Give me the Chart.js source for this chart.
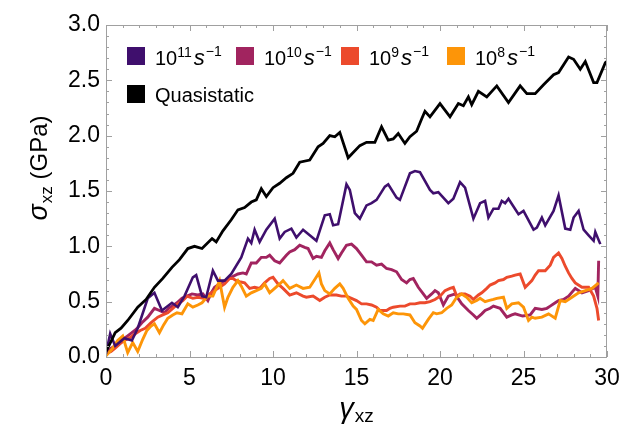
<!DOCTYPE html>
<html>
<head>
<meta charset="utf-8">
<script src="https://cdn.jsdelivr.net/npm/chart.js@4.4.1/dist/chart.umd.min.js"></script>
<style>
  html, body { margin: 0; padding: 0; background: #fff; }
  #wrap { width: 620px; height: 431px; }
</style>
</head>
<body>
<div id="wrap"><canvas id="stressChart" width="620" height="431"></canvas></div>
<script>
// Shear stress vs shear strain
const strainQS = [0,0.3,0.55,0.9,1.3,1.9,2.4,2.9,3.4,3.95,4.4,4.9,5.3,5.75,6.35,6.6,7.0,7.5,7.9,8.3,8.7,9.0,9.3,9.6,10.0,10.4,10.8,11.2,11.6,12.2,12.7,13.0,13.4,13.7,14.0,14.5,15.2,15.6,16.1,16.5,16.9,17.2,17.5,17.9,18.2,18.6,18.9,19.1,19.4,20.0,20.6,21.1,21.4,21.7,21.9,22.3,22.8,23.4,24.1,24.8,25.2,25.7,26.2,26.8,27.1,27.7,28.0,28.4,28.7,29.2,29.4,29.9,30];
const stressQS = [0.05,0.14,0.22,0.26,0.33,0.45,0.52,0.63,0.71,0.81,0.88,0.98,1.00,0.98,1.07,1.04,1.14,1.24,1.33,1.35,1.40,1.42,1.52,1.45,1.53,1.57,1.62,1.66,1.76,1.78,1.90,1.93,2.00,1.99,2.03,1.80,1.91,1.94,1.94,2.08,1.96,1.97,2.02,1.93,1.99,2.04,2.15,2.22,2.17,2.29,2.17,2.29,2.27,2.35,2.28,2.40,2.35,2.45,2.30,2.45,2.38,2.38,2.46,2.55,2.57,2.71,2.69,2.60,2.67,2.48,2.48,2.66,2.67];

const strain11 = [0,0.25,0.55,1.1,1.55,1.9,2.5,2.9,3.35,3.95,4.3,4.7,5.2,5.4,5.75,6.0,6.4,6.7,7.1,7.5,8.1,8.5,8.7,8.9,9.2,9.6,10.1,10.4,10.7,11.1,11.4,11.8,12.2,12.6,13.1,13.4,13.6,13.9,14.4,14.6,14.9,15.2,15.6,15.9,16.2,16.7,16.9,17.4,17.6,18.2,18.5,18.8,19.4,19.6,19.9,20.5,20.8,21.2,21.5,22.0,22.4,22.7,22.9,23.2,23.5,23.7,23.9,24.1,24.7,25.0,25.6,25.8,26.1,26.3,26.8,27.1,27.5,27.8,28.0,28.3,28.6,28.9,29.2,29.3,29.6];
const stress11 = [0.03,0.21,0.10,0.17,0.15,0.26,0.53,0.58,0.42,0.49,0.45,0.55,0.72,0.74,0.55,0.54,0.78,0.69,0.69,0.75,0.90,1.07,1.03,1.15,1.04,1.15,1.25,1.07,1.13,1.16,1.08,1.15,1.10,1.05,1.28,1.29,1.19,1.20,1.56,1.51,1.30,1.25,1.37,1.39,1.42,1.54,1.56,1.44,1.42,1.66,1.68,1.67,1.51,1.48,1.49,1.39,1.43,1.58,1.53,1.25,1.39,1.41,1.26,1.34,1.34,1.41,1.39,1.43,1.29,1.32,1.15,1.17,1.26,1.19,1.32,1.46,1.16,1.15,1.26,1.32,1.15,1.10,1.05,1.13,1.02];

const strain10 = [0,0.3,0.55,0.8,0.95,1.2,1.55,1.8,2.15,2.5,2.9,3.2,3.5,3.75,3.95,4.25,4.55,4.85,5.15,5.5,5.8,6.1,6.3,6.5,6.8,7.1,7.5,7.9,8.2,8.4,8.7,9.0,9.3,9.6,9.8,10.1,10.4,10.8,11.0,11.3,11.6,11.9,12.1,12.4,12.6,12.9,13.1,13.4,13.6,13.9,14.1,14.4,14.7,15.0,15.3,15.6,15.9,16.2,16.5,16.8,17.1,17.4,17.7,18.0,18.2,18.4,18.7,19.0,19.2,19.5,19.7,19.9,20.2,20.5,20.9,21.3,21.7,22.0,22.2,22.5,22.7,23.0,23.2,23.6,24.0,24.3,24.5,24.95,25.4,25.7,26.1,26.4,26.6,26.9,27.1,27.4,27.7,28.1,28.5,28.9,29.3,29.45,29.5];
const stress10 = [0.04,0.08,0.10,0.13,0.16,0.18,0.22,0.25,0.31,0.36,0.44,0.42,0.40,0.44,0.46,0.49,0.53,0.55,0.57,0.56,0.57,0.51,0.58,0.63,0.66,0.69,0.72,0.75,0.76,0.75,0.85,0.85,0.90,0.90,0.92,0.87,0.85,0.92,0.95,0.97,1.01,0.99,0.98,0.89,0.91,0.90,0.96,1.03,0.97,0.89,0.94,1.01,1.02,0.98,0.92,0.86,0.86,0.83,0.84,0.80,0.79,0.77,0.70,0.67,0.70,0.71,0.63,0.57,0.53,0.57,0.60,0.58,0.47,0.55,0.57,0.48,0.42,0.38,0.35,0.39,0.42,0.44,0.46,0.44,0.36,0.38,0.39,0.37,0.38,0.44,0.43,0.44,0.46,0.49,0.51,0.52,0.55,0.62,0.58,0.60,0.63,0.55,0.87];

const strain9 = [0,0.3,0.55,0.85,1.1,1.4,1.75,2.05,2.35,2.7,3.1,3.4,3.7,4.0,4.3,4.6,4.85,5.2,5.5,5.9,6.2,6.5,6.8,7.1,7.4,7.6,7.8,8.0,8.3,8.6,8.9,9.2,9.5,9.8,10.0,10.3,10.6,11.0,11.4,11.8,12.0,12.4,12.8,13.1,13.4,13.8,14.1,14.4,14.7,15.0,15.3,15.6,15.9,16.2,16.4,16.8,17.0,17.2,17.6,17.9,18.2,18.5,18.8,19.1,19.4,19.7,20.0,20.3,20.6,20.8,21.0,21.2,21.5,21.8,22.0,22.3,22.5,22.8,23.0,23.3,23.5,23.8,24.0,24.3,24.5,24.8,25.1,25.3,25.5,25.7,25.9,26.3,26.6,26.8,27.1,27.3,27.5,27.7,27.9,28.1,28.5,28.9,29.2,29.4,29.5];
const stress9 = [0.03,0.05,0.08,0.12,0.15,0.17,0.21,0.24,0.26,0.31,0.36,0.38,0.40,0.44,0.48,0.51,0.55,0.53,0.54,0.53,0.57,0.60,0.63,0.66,0.71,0.71,0.69,0.68,0.67,0.62,0.63,0.62,0.67,0.71,0.72,0.66,0.62,0.56,0.58,0.55,0.54,0.55,0.51,0.54,0.56,0.56,0.55,0.55,0.53,0.51,0.48,0.48,0.47,0.45,0.42,0.42,0.44,0.45,0.46,0.46,0.48,0.48,0.49,0.49,0.50,0.52,0.55,0.60,0.62,0.63,0.55,0.57,0.57,0.55,0.52,0.56,0.58,0.62,0.65,0.67,0.69,0.70,0.72,0.73,0.74,0.75,0.63,0.66,0.69,0.74,0.78,0.78,0.83,0.90,0.94,0.89,0.82,0.76,0.71,0.67,0.63,0.63,0.55,0.44,0.33];

const strain8 = [0,0.35,0.7,1.0,1.3,1.6,1.9,2.2,2.45,2.7,2.9,3.2,3.45,3.7,4.0,4.25,4.55,4.9,5.2,5.5,5.75,6.1,6.4,6.8,7.1,7.3,7.6,7.9,8.1,8.4,8.7,9.0,9.3,9.5,9.8,10.1,10.4,10.6,11.0,11.4,11.8,12.2,12.5,12.75,12.9,13.1,13.4,13.7,14.0,14.2,14.5,14.8,15.0,15.3,15.5,15.8,16.0,16.3,16.6,16.9,17.2,17.5,17.8,18.2,18.5,18.8,18.95,19.3,19.6,19.8,20.1,20.4,20.7,21.0,21.3,21.6,21.9,22.2,22.4,22.7,22.9,23.2,23.4,23.8,24.0,24.3,24.7,25.0,25.3,25.5,25.7,26.1,26.5,26.9,27.2,27.5,27.9,28.3,28.7,29.1,29.5];
const stress8 = [0.01,0.07,0.15,0.19,0.04,0.13,0.05,0.16,0.24,0.28,0.30,0.22,0.29,0.35,0.38,0.40,0.39,0.48,0.45,0.47,0.49,0.55,0.55,0.69,0.45,0.54,0.63,0.69,0.64,0.55,0.58,0.60,0.62,0.66,0.58,0.62,0.66,0.69,0.62,0.65,0.62,0.63,0.70,0.76,0.66,0.60,0.57,0.62,0.66,0.62,0.53,0.46,0.43,0.33,0.30,0.34,0.33,0.43,0.39,0.37,0.40,0.39,0.39,0.38,0.31,0.28,0.26,0.34,0.40,0.39,0.40,0.44,0.47,0.54,0.57,0.54,0.49,0.51,0.53,0.50,0.51,0.52,0.53,0.54,0.44,0.48,0.49,0.45,0.33,0.36,0.35,0.36,0.39,0.35,0.51,0.50,0.54,0.58,0.60,0.62,0.67];

const seriesExp = ['11', '10', '9', '8'];
const seriesColors = ['#3f0f6d', '#a1245f', '#ec4a2c', '#fd9508'];
const xTicks = [0, 5, 10, 15, 20, 25, 30];
const yTicks = [0, 0.5, 1.0, 1.5, 2.0, 2.5, 3.0];

const FONT = "'Liberation Sans', Arial, Helvetica, sans-serif";
// left edge of each legend swatch, measured from the plot's left side
const legendOffsets = [21, 130, 235, 341];

function pts(xs, ys) {
  return xs.map((x, i) => ({ x: x, y: ys[i] }));
}

// draws runs of text with italic / sub / superscript pieces
function drawRuns(ctx, runs, x, y, align) {
  let total = 0;
  runs.forEach(r => {
    ctx.font = (r.italic ? 'italic ' : '') + r.size + 'px ' + FONT;
    r.w = ctx.measureText(r.t).width;
    total += r.w + (r.gap || 0);
  });
  let cx = align === 'center' ? x - total / 2 : x;
  runs.forEach(r => {
    ctx.font = (r.italic ? 'italic ' : '') + r.size + 'px ' + FONT;
    ctx.fillText(r.t, cx, y + (r.dy || 0));
    cx += r.w + (r.gap || 0);
  });
  return total;
}

const framePlugin = {
  id: 'framePlugin',
  afterDraw(chart) {
    const ctx = chart.ctx;
    const a = chart.chartArea;
    const xs = chart.scales.x, ys = chart.scales.y;
    ctx.save();
    ctx.strokeStyle = '#a0a0a0';
    ctx.lineWidth = 1;
    ctx.strokeRect(a.left + 0.5, a.top + 0.5, a.right - a.left - 1, a.bottom - a.top);
    ctx.beginPath();
    for (let v = 0; v <= 30; v++) {
      const px = Math.round(xs.getPixelForValue(v)) + 0.5;
      const len = v % 5 === 0 ? 6 : 3;
      ctx.moveTo(px, a.bottom); ctx.lineTo(px, a.bottom - len);
      ctx.moveTo(px, a.top); ctx.lineTo(px, a.top + len);
    }
    for (let k = 0; k <= 30; k++) {
      const py = Math.round(ys.getPixelForValue(k / 10)) + 0.5;
      const len = k % 5 === 0 ? 6 : 3;
      ctx.moveTo(a.left, py); ctx.lineTo(a.left + len, py);
      ctx.moveTo(a.right, py); ctx.lineTo(a.right - len, py);
    }
    ctx.stroke();

    // axis titles
    ctx.fillStyle = '#000';
    ctx.textBaseline = 'alphabetic';
    ctx.textAlign = 'left';
    drawRuns(ctx, [
      { t: 'γ', size: 29, italic: true, gap: 1 },
      { t: 'xz', size: 19, dy: 4 }
    ], (a.left + a.right) / 2, 418, 'center');

    ctx.save();
    ctx.translate(47, 168);
    ctx.rotate(-Math.PI / 2);
    drawRuns(ctx, [
      { t: 'σ', size: 27, italic: true, gap: 1 },
      { t: 'xz', size: 17, dy: 5 },
      { t: ' (GPa)', size: 24 }
    ], 0, 0, 'center');
    ctx.restore();

    // legend inside the plot
    const row1 = a.top + 40, row2 = a.top + 77;
    chart.data.datasets.forEach((ds, i) => {
      if (i >= 4) return;
      const lx = a.left + legendOffsets[i];
      ctx.fillStyle = ds.borderColor;
      ctx.fillRect(lx, row1 - 18, 18, 18);
      ctx.fillStyle = '#000';
      drawRuns(ctx, [
        { t: '10', size: 20 },
        { t: seriesExp[i], size: 14, dy: -8, gap: 2 },
        { t: 's', size: 22, italic: true, gap: 1 },
        { t: '−1', size: 14, dy: -9 }
      ], lx + 28, row1, 'left');
    });
    ctx.fillStyle = '#000';
    ctx.fillRect(a.left + 21, row2 - 17, 18, 18);
    drawRuns(ctx, [{ t: 'Quasistatic', size: 20 }], a.left + 49, row2, 'left');
    ctx.restore();
  }
};

const lineStyle = (color, width) => ({
  borderColor: color,
  backgroundColor: color,
  borderWidth: width,
  pointRadius: 0,
  tension: 0,
  fill: false
});

const chart = new Chart(document.getElementById('stressChart').getContext('2d'), {
  type: 'line',
  data: {
    datasets: [
      Object.assign({ label: '1e11', data: pts(strain11, stress11), order: 1 }, lineStyle(seriesColors[0], 2.6)),
      Object.assign({ label: '1e10', data: pts(strain10, stress10), order: 4 }, lineStyle(seriesColors[1], 2.9)),
      Object.assign({ label: '1e9', data: pts(strain9, stress9), order: 3 }, lineStyle(seriesColors[2], 2.9)),
      Object.assign({ label: '1e8', data: pts(strain8, stress8), order: 2 }, lineStyle(seriesColors[3], 2.9)),
      Object.assign({ label: 'Quasistatic', data: pts(strainQS, stressQS), order: 0 }, lineStyle('#000000', 2.8))
    ]
  },
  options: {
    responsive: false,
    animation: false,
    devicePixelRatio: 1,
    layout: { padding: { top: 25, right: 13, left: 0, bottom: 0 } },
    plugins: { legend: { display: false }, tooltip: { enabled: false } },
    scales: {
      x: {
        type: 'linear', min: 0, max: 30,
        afterBuildTicks: s => { s.ticks = xTicks.map(v => ({ value: v })); },
        afterFit: s => { s.height = 74; s.paddingLeft = 0; s.paddingRight = 0; },
        grid: { display: false, drawTicks: false },
        border: { display: false },
        ticks: { color: '#000', padding: 8, maxRotation: 0, font: { family: FONT, size: 23 } }
      },
      y: {
        type: 'linear', min: 0, max: 3,
        afterBuildTicks: s => { s.ticks = yTicks.map(v => ({ value: v })); },
        afterFit: s => { s.width = 106; s.paddingTop = 0; s.paddingBottom = 0; },
        grid: { display: false, drawTicks: false },
        border: { display: false },
        ticks: { color: '#000', padding: 6, font: { family: FONT, size: 23 }, callback: v => v.toFixed(1) }
      }
    }
  },
  plugins: [framePlugin]
});
</script>
</body>
</html>
